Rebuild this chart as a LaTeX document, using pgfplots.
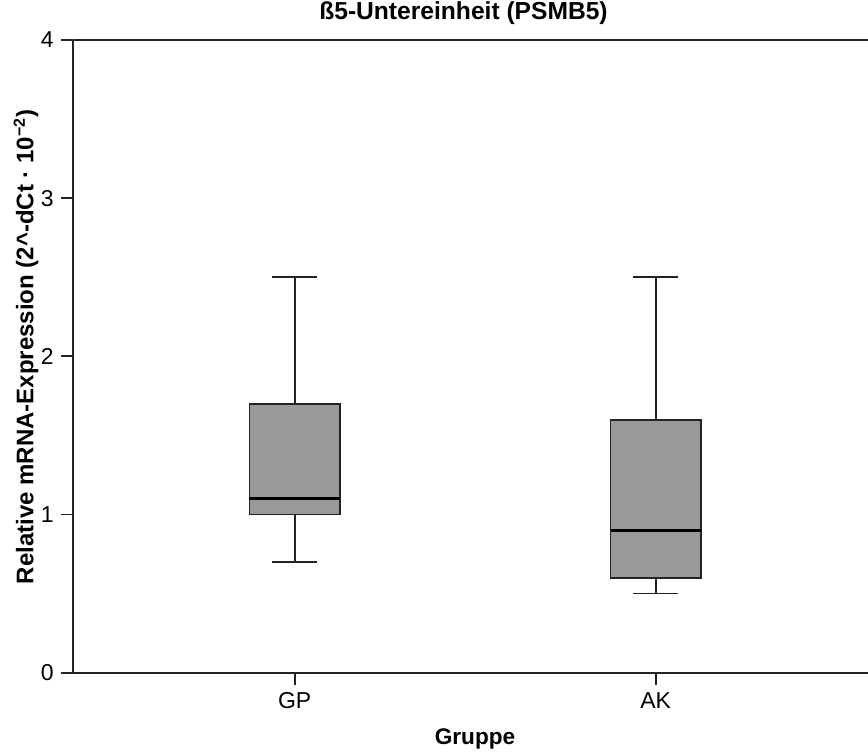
\documentclass[border=0pt]{standalone}
\usepackage{fontspec}
\setmainfont{Liberation Sans}
\usepackage{pgfplots}
\pgfplotsset{compat=1.18}
\usepgfplotslibrary{statistics}
\definecolor{boxgray}{RGB}{153,153,153}
\definecolor{linegray}{RGB}{35,35,35}

\begin{document}
\begin{tikzpicture}
\begin{axis}[
  name=ax,
  scale only axis,
  width=397.35pt, height=316.35pt,
  xmin=0.387, xmax=2.588,
  ymin=0, ymax=4,
  axis x line*=bottom, axis y line*=left,
  axis line style={linegray, line width=0.9pt},
  xtick={1,2}, xticklabels={GP,AK},
  ytick={0,1,2,3,4},
  tick align=outside,
  major tick length=6.3pt,
  tick style={linegray, line width=0.9pt},
  /pgf/number format/assume math mode=true,
  ticklabel style={font=\fontsize{11.5}{13}\selectfont},
  title={\textbf{ß5-Untereinheit (PSMB5)}},
  title style={font=\fontsize{12.3}{14}\selectfont, at={(axis description cs:0.491,1)}, anchor=base, yshift=4.15pt},
  xlabel={\textbf{Gruppe}},
  xlabel style={font=\fontsize{11.3}{13}\selectfont, at={(axis description cs:0.5055,0)}, anchor=base, yshift=-36pt},
  ylabel={\textbf{Relative mRNA-Expression (2\textasciicircum-dCt · 10\textsuperscript{−2})}},
  ylabel style={font=\fontsize{12}{14}\selectfont, at={(axis description cs:-0.0595,0.515)}, anchor=center},
  boxplot/draw direction=y,
  boxplot/every median/.style={black, line width=1.6pt},
]
% GP
\addplot[boxplot prepared={lower whisker=0.7, lower quartile=1.0, median=1.1,
  upper quartile=1.7, upper whisker=2.5, draw position=1,
  box extend=0.25, whisker extend=0.125},
  draw=linegray, fill=boxgray, line width=0.9pt, solid, mark=none] coordinates {};
% AK
\addplot[boxplot prepared={lower whisker=0.5, lower quartile=0.6, median=0.9,
  upper quartile=1.6, upper whisker=2.5, draw position=2,
  box extend=0.25, whisker extend=0.125},
  draw=linegray, fill=boxgray, line width=0.9pt, solid, mark=none] coordinates {};
\draw[linegray, line width=0.9pt] (rel axis cs:0,1) -- (rel axis cs:1,1);
\end{axis}
\pgfresetboundingbox
\path[use as bounding box] ([xshift=-36.65pt,yshift=-39.5pt]ax.south west) rectangle ([yshift=20pt]ax.north east);
\end{tikzpicture}
\end{document}
